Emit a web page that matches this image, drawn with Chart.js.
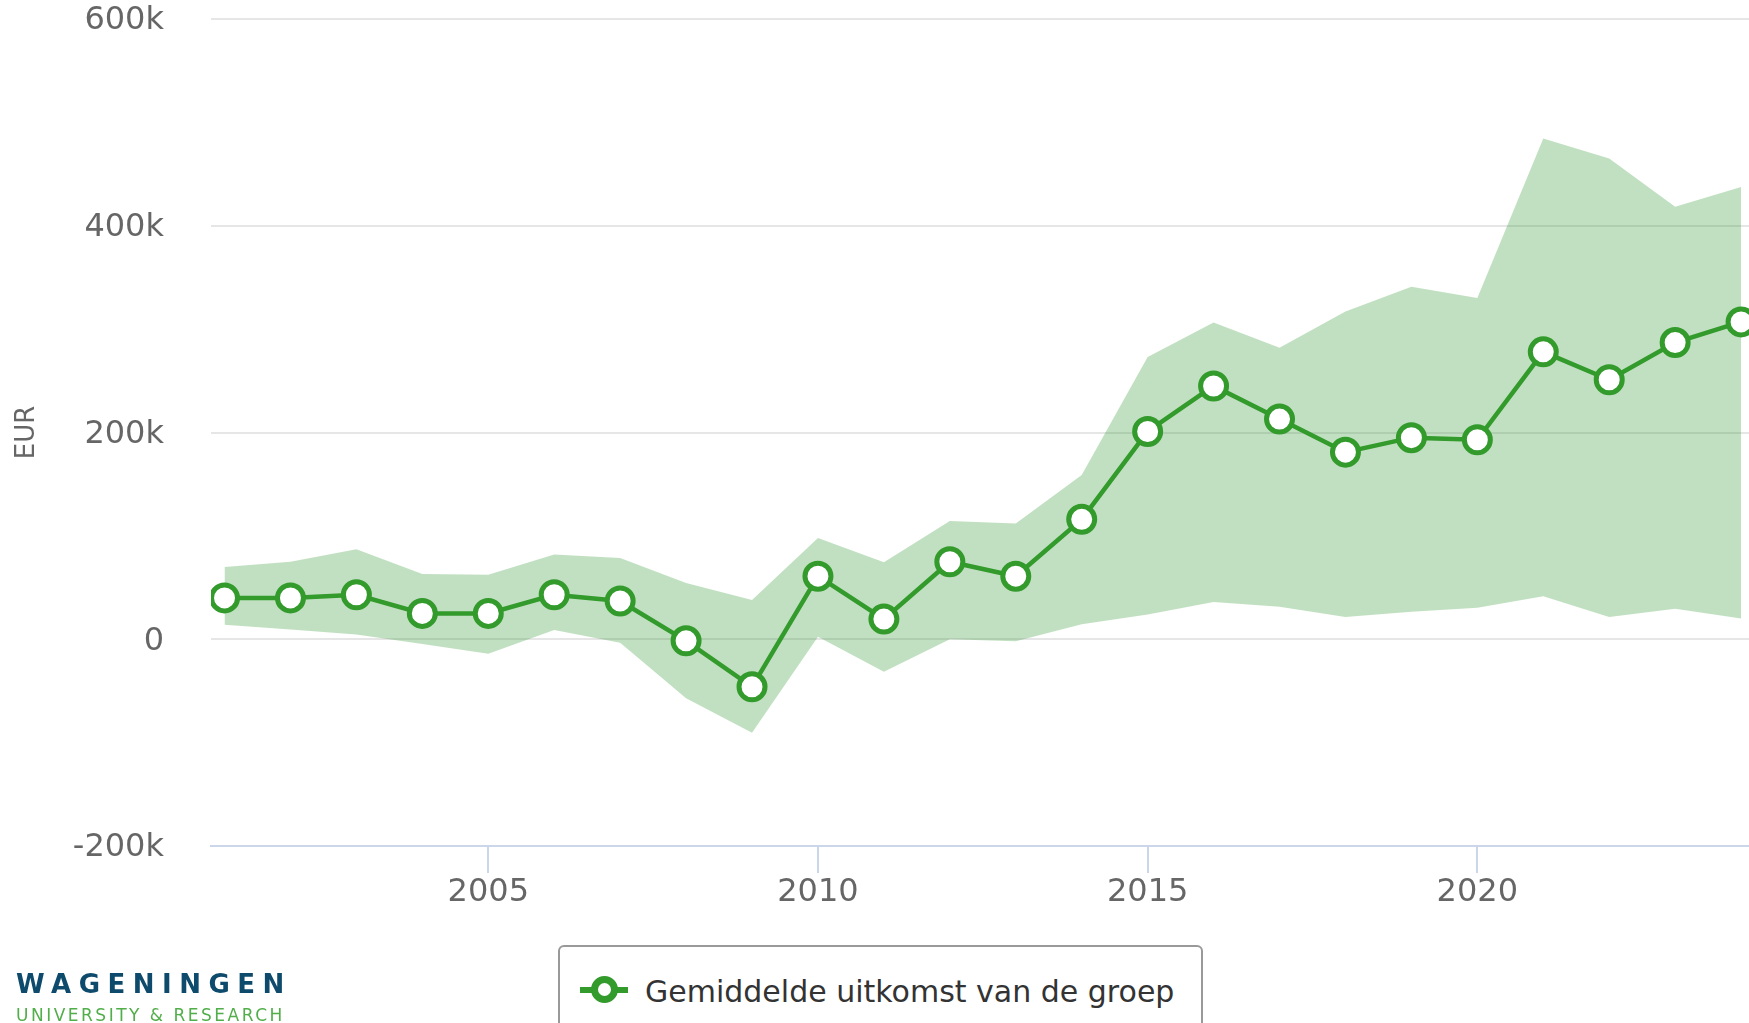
<!DOCTYPE html>
<html>
<head>
<meta charset="utf-8">
<script src="https://cdn.jsdelivr.net/npm/chart.js@4.4.1/dist/chart.umd.min.js"></script>
<style>
  html, body { margin: 0; padding: 0; background: #fff; overflow: hidden; }
  #wrap { position: relative; width: 1749px; height: 1023px; font-family: "DejaVu Sans", sans-serif; }
  #chart { position: absolute; left: 0; top: 0; }
  #legend { position: absolute; left: 558px; top: 945px; width: 645px; height: 110px;
            border: 2px solid #999; border-radius: 6px; box-sizing: border-box; background: #fff; }
  #legend .line { position: absolute; left: 20px; top: 40px; width: 48px; height: 6px; background: #339a2c; }
  #legend .dot { position: absolute; left: 31px; top: 29px; width: 27px; height: 27px; box-sizing: border-box;
                 border: 7px solid #339a2c; border-radius: 50%; background: #fff; }
  #legend .label { position: absolute; left: 85px; top: 30px; font-size: 30px; line-height: 30px; color: #333; white-space: nowrap; }
  #logo1 { position: absolute; left: 16px; top: 971px; font-size: 26px; line-height: 26px; font-weight: bold;
           letter-spacing: 7.5px; color: #0d4a6b; white-space: nowrap; }
  #logo2 { position: absolute; left: 16px; top: 1007px; font-size: 17px; line-height: 17px;
           letter-spacing: 2.5px; color: #52ae4a; white-space: nowrap; }
</style>
</head>
<body>
<div id="wrap">
  <canvas id="chart" width="1749" height="1023"></canvas>
  <div id="legend">
    <div class="line"></div>
    <div class="dot"></div>
    <div class="label">Gemiddelde uitkomst van de groep</div>
  </div>
  <div id="logo1">WAGENINGEN</div>
  <div id="logo2">UNIVERSITY &amp; RESEARCH</div>
</div>
<script>
// values (EUR)
const years = [2001, 2002, 2003, 2004, 2005, 2006, 2007, 2008, 2009, 2010, 2011, 2012,
               2013, 2014, 2015, 2016, 2017, 2018, 2019, 2020, 2021, 2022, 2023, 2024];
const meanValues = [40000, 40000, 43000, 25000, 25000, 43000, 37000, -1500, -46000, 61000, 19500, 75000,
                    61000, 116000, 201000, 245000, 213000, 181000, 195000, 193000, 278000, 251000, 287000, 307000];
const upperValues = [70000, 75000, 87000, 63000, 62500, 82000, 78500, 54500, 38000, 98000, 74500, 114500,
                     112000, 159000, 273000, 306500, 282000, 317000, 341000, 330000, 484500, 465000, 418500, 437500];
const lowerValues = [14000, 9500, 4500, -4500, -14000, 9000, -3500, -57000, -90500, 2500, -31500, 0,
                     -2000, 14500, 24000, 36000, 31500, 21500, 26500, 30500, 41500, 21500, 29500, 20000];
const xTickYears = [2005, 2010, 2015, 2020];
const yTicks = [-200000, 0, 200000, 400000, 600000];

const green = '#339a2c';
const toPoints = vals => vals.map((v, i) => ({ x: years[i], y: v }));

new Chart(document.getElementById('chart'), {
  type: 'line',
  data: {
    datasets: [
      {
        label: 'Gemiddelde uitkomst van de groep',
        data: toPoints(meanValues),
        borderColor: green,
        borderWidth: 4.5,
        pointRadius: 13,
        pointBorderWidth: 5,
        pointBackgroundColor: '#fff',
        pointBorderColor: green,
        tension: 0,
        fill: false
      },
      {
        label: 'upper',
        data: toPoints(upperValues),
        borderWidth: 0,
        pointRadius: 0,
        backgroundColor: 'rgba(51,153,51,0.3)',
        fill: '+1'
      },
      {
        label: 'lower',
        data: toPoints(lowerValues),
        borderWidth: 0,
        pointRadius: 0,
        fill: false
      }
    ]
  },
  options: {
    responsive: false,
    animation: false,
    devicePixelRatio: 1,
    layout: { autoPadding: false, padding: { top: 19, left: 0, right: 0, bottom: 0 } },
    plugins: {
      legend: { display: false },
      tooltip: { enabled: false }
    },
    scales: {
      x: {
        type: 'linear',
        min: 2000.795,
        max: 2024.12,
        afterBuildTicks: scale => { scale.ticks = xTickYears.map(v => ({ value: v })); },
        afterFit: scale => { scale.height = 177; },
        grid: { drawOnChartArea: false, drawTicks: true, tickLength: 27, color: '#ccd6eb', lineWidth: 2 },
        border: { display: true, color: '#ccd6eb', width: 2 },
        ticks: {
          padding: 4,
          color: '#666',
          font: { family: 'DejaVu Sans', size: 32, lineHeight: 1 },
          callback: v => String(v)
        }
      },
      y: {
        min: -200000,
        max: 600000,
        afterBuildTicks: scale => { scale.ticks = yTicks.map(v => ({ value: v })); },
        afterFit: scale => { scale.width = 211; },
        grid: {
          drawTicks: true,
          tickLength: 47,
          tickColor: 'rgba(0,0,0,0)',
          lineWidth: 2,
          color: c => (c.tick && c.tick.value === -200000) ? 'rgba(0,0,0,0)' : '#e6e6e6'
        },
        border: { display: false },
        ticks: {
          padding: 0,
          labelOffset: 2,
          color: '#666',
          font: { family: 'DejaVu Sans', size: 32, lineHeight: 1 },
          callback: v => v === 0 ? '0' : (v / 1000) + 'k'
        },
        title: {
          display: true,
          text: 'EUR',
          color: '#666',
          padding: { top: 14, bottom: 0 },
          font: { family: 'DejaVu Sans', size: 26, lineHeight: 1 }
        }
      }
    }
  }
});
</script>
</body>
</html>
